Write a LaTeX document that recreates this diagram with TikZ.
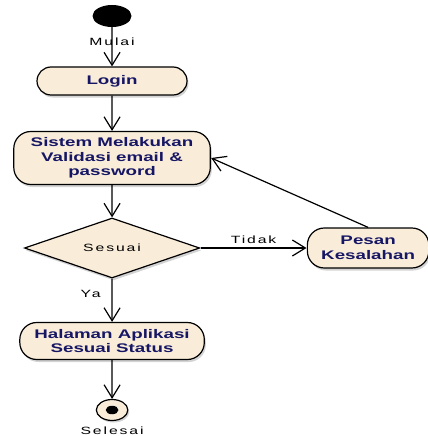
\documentclass[tikz,border=0pt]{standalone}
\usepackage{fontspec}
\setmainfont{Liberation Sans}
\newfontfamily\labelfont[LetterSpace=12]{Liberation Sans}
\usetikzlibrary{arrows.meta, shapes.geometric, shadows}
\definecolor{actfill}{RGB}{249,237,218}
\definecolor{acttext}{RGB}{22,22,100}
\tikzstyle{activity} = [
    rectangle,
    rounded corners=17pt,
    align=center,
    inner sep=2pt,
    draw=black,
    line width=1.2pt,
    fill=actfill,
    text=acttext,
    font=\bfseries\fontsize{12.5}{14.5}\selectfont,
    drop shadow={shadow xshift=1.5pt, shadow yshift=-2.5pt, opacity=0.35}
]
\tikzstyle{decision} = [
    diamond,
    aspect=2,
    inner sep=0pt,
    minimum width=117pt,
    minimum height=60pt,
    draw=black,
    line width=1.2pt,
    fill=actfill,
    font=\labelfont\fontsize{10.5}{12}\selectfont,
    drop shadow={shadow xshift=1.5pt, shadow yshift=-2.5pt, opacity=0.35}
]
\tikzstyle{lbl} = [font=\labelfont\fontsize{10.5}{12}\selectfont, inner sep=1pt]
\tikzstyle{arrow} = [line width=1.2pt, -{Straight Barb[length=13pt, width=16pt]}]

\begin{document}
\begin{tikzpicture}[x=0.6667pt, y=-1pt, xscale=1.5, transform shape]
    \useasboundingbox (0,0) rectangle (427,436);

    \node (start) [ellipse, fill=black, minimum width=26pt, minimum height=22pt, inner sep=0pt] at (112,16) {};
    \node (login) [activity, below of=start, node distance=65pt,
        minimum width=100pt, minimum height=28pt, rounded corners=14pt] {Login};
    \node (sistem) [activity, below of=login, node distance=77pt,
        minimum width=131pt, minimum height=53pt] {Sistem Melakukan\\Validasi email \&\\password};
    \node (sesuai) [decision, below of=sistem, node distance=90pt] {Sesuai};
    \node (halaman) [activity, below of=sesuai, node distance=93pt,
        minimum width=123pt, minimum height=37pt] {Halaman Aplikasi\\Sesuai Status};
    \node (selesai) [circle, draw=black, line width=1.2pt, fill=actfill, minimum size=21pt, inner sep=0pt,
        below of=halaman, node distance=69pt,
        drop shadow={shadow xshift=1.5pt, shadow yshift=-2pt, opacity=0.35}] {};
    \node (selesaidot) [circle, fill=black, minimum size=8.5pt, inner sep=0pt] at (selesai) {};
    \node (pesan) [activity, right of=sesuai, node distance=170.7pt,
        minimum width=81pt, minimum height=40pt] {Pesan\\Kesalahan};

    \node (mulai) [lbl, below of=start, node distance=26pt] {Mulai};
    \node (selesailabel) [lbl, below of=selesai, node distance=21pt] {Selesai};

    \draw [arrow] (start) -- (login);
    \draw [arrow] (login) -- (sistem);
    \draw [arrow] (sistem) -- (sesuai);
    \draw [arrow] (sesuai) -- node[lbl, above=3pt] {Tidak} (pesan);
    \draw [arrow] (sesuai) -- node[lbl, left=6pt, pos=0.35] {Ya} (halaman);
    \draw [arrow] (pesan.north) -- (sistem.east);
    \draw [arrow] (halaman) -- (selesai);
\end{tikzpicture}
\end{document}
